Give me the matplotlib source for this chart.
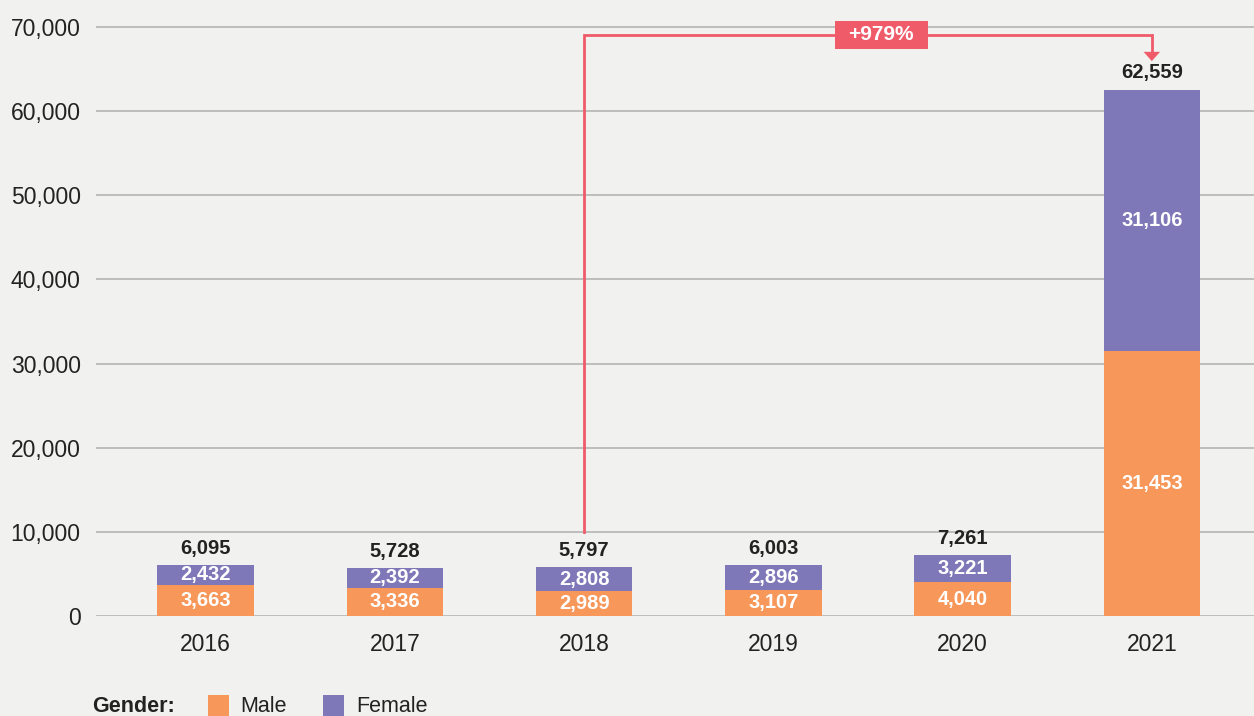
import matplotlib
matplotlib.use("Agg")
import matplotlib.pyplot as plt
from matplotlib.patches import Rectangle

years = ["2016", "2017", "2018", "2019", "2020", "2021"]
male = [3663, 3336, 2989, 3107, 4040, 31453]
female = [2432, 2392, 2808, 2896, 3221, 31106]
yticks = [0, 10000, 20000, 30000, 40000, 50000, 60000, 70000]
change_label = "+979%"

BG = "#F1F1EF"
ORANGE = "#F7975A"
PURPLE = "#7E78B8"
RED = "#EF5B69"
DARK = "#222222"

plt.rcParams['font.family'] = ['Liberation Sans', 'DejaVu Sans']

fig = plt.figure(figsize=(12.54, 7.16), dpi=100, facecolor=BG)
ax = fig.add_axes([96/1254, 100/716, 1 - 96/1254, 616/716])
ax.set_facecolor(BG)

x = list(range(len(years)))
totals = [m + f for m, f in zip(male, female)]
w = 0.51
ax.bar(x, male, width=w, color=ORANGE, zorder=3)
ax.bar(x, female, width=w, bottom=male, color=PURPLE, zorder=3)

for i in x:
    ax.text(i, male[i] / 2, f"{male[i]:,}", ha="center", va="center",
            color="white", fontsize=14.5, fontweight="bold", zorder=4)
    ax.text(i, male[i] + female[i] / 2, f"{female[i]:,}", ha="center", va="center",
            color="white", fontsize=14.5, fontweight="bold", zorder=4)
    ax.annotate(f"{totals[i]:,}", (i, totals[i]), xytext=(0, 12), textcoords="offset points",
                ha="center", va="center", color=DARK, fontsize=14.5, fontweight="bold", zorder=4)

ax.set_xlim(-0.58, 5.54)
ax.set_ylim(0, 73210)
ax.set_yticks(yticks)
ax.set_yticklabels([f"{v:,}" for v in yticks])
ax.set_xticks(x)
ax.set_xticklabels(years)
ax.tick_params(axis="both", length=0, labelsize=16.5, colors=DARK)
ax.tick_params(axis="y", pad=11)
ax.tick_params(axis="x", pad=12)
ax.grid(axis="y", color="#AFAFAF", linewidth=1.1, zorder=0)
for s in ax.spines.values():
    s.set_visible(False)

# change connector from 2018 to 2021
x0, x1 = 2, 5
y_start = totals[x0] + 4200
y_top = 69000
y_tip = 65950
y_head = 67050
ax.plot([x0, x0, x1, x1], [y_start, y_top, y_top, y_head], color=RED, lw=2,
        solid_joinstyle="miter", zorder=5, clip_on=False)
ax.annotate("", xy=(x1, y_tip), xytext=(x1, y_head + 10),
            arrowprops=dict(arrowstyle="-|>,head_width=0.58,head_length=0.65",
                            color=RED, lw=0.1, shrinkA=0, shrinkB=0),
            zorder=5)
bx, bw, bh = 3.57, 93 / 189, 28 / 0.008414
ax.add_patch(Rectangle((bx - bw / 2, y_top - bh / 2 + 100), bw, bh, facecolor=RED,
                       edgecolor="none", zorder=6, clip_on=False))
ax.text(bx, y_top + 100, change_label, ha="center", va="center", color="white",
        fontsize=15, fontweight="bold", zorder=7)

# legend
fig.text(92/1254, 1 - 706/716, "Gender:", ha="left", va="center", fontsize=15.5,
         fontweight="bold", color=DARK)
fig.patches.append(Rectangle((208/1254, 0), 21/1254, 21/716, transform=fig.transFigure,
                             facecolor=ORANGE, edgecolor="none"))
fig.text(240/1254, 1 - 706/716, "Male", ha="left", va="center", fontsize=15.5, color=DARK)
fig.patches.append(Rectangle((323/1254, 0), 21/1254, 21/716, transform=fig.transFigure,
                             facecolor=PURPLE, edgecolor="none"))
fig.text(356/1254, 1 - 706/716, "Female", ha="left", va="center", fontsize=15.5, color=DARK)

fig.savefig("out.png", dpi=100, facecolor=BG)
